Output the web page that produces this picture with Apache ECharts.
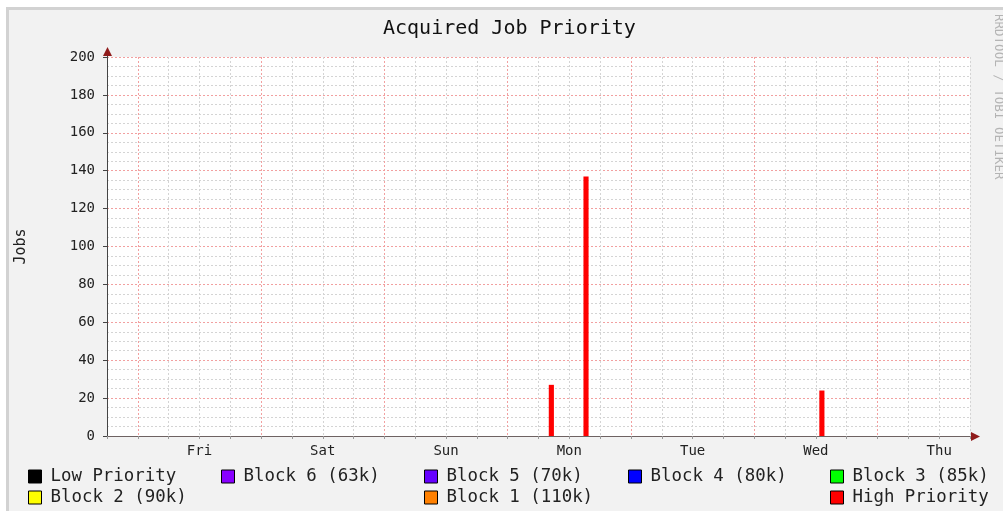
<!DOCTYPE html>
<html>
<head>
<meta charset="utf-8">
<title>Acquired Job Priority</title>
<script src="https://cdn.jsdelivr.net/npm/echarts@6/dist/echarts.min.js"></script>
<style>
  html, body { margin: 0; padding: 0; background: #fff; }
  #frame {
    position: absolute; left: 6px; top: 7px; width: 997px; height: 504px;
    box-sizing: border-box; background: #f2f2f2;
    border-left: 3px solid #d2d2d2; border-top: 3px solid #d2d2d2;
  }
  #main { position: absolute; left: 0; top: 0; width: 1003px; height: 513px; }
</style>
</head>
<body>
<div id="frame"></div>
<div id="main"></div>
<script>
// one week, hourly steps (times in UTC)
const rangeStart = '2024-01-04 18:00';
const rangeEnd = '2024-01-11 18:00';
const dayNames = ['Sun', 'Mon', 'Tue', 'Wed', 'Thu', 'Fri', 'Sat'];

const seriesNames = ['Low Priority', 'Block 6 (63k)', 'Block 5 (70k)', 'Block 4 (80k)',
  'Block 3 (85k)', 'Block 2 (90k)', 'Block 1 (110k)', 'High Priority'];
const seriesColors = ['#000000', '#8800ff', '#6600ff', '#0000ff',
  '#00ff00', '#ffff00', '#ff8000', '#ff0000'];

// only High Priority had jobs in this week; the other classes stay at 0
const highTimes = ['2024-01-08 08:00', '2024-01-08 14:45', '2024-01-10 12:40'];
const highValues = [27, 137, 24];

const HOUR = 3600 * 1000;
const FONT = 'DejaVu Sans Mono';
const GRID_MINOR = '#d4d4d4';
const GRID_MAJOR = '#f2a0a0';

function toMs(s) {
  return new Date(s.replace(' ', 'T') + ':00Z').getTime();
}

const xMin = toMs(rangeStart);
const xMax = toMs(rangeEnd);

var chart = echarts.init(document.getElementById('main'), null, { renderer: 'canvas' });

// each sample covers one hour, like an rrd AREA step
function renderStep(params, api) {
  const t = api.value(0);
  const p0 = api.coord([t, api.value(1)]);
  const p1 = api.coord([t + HOUR, 0]);
  return {
    type: 'rect',
    shape: { x: p0[0], y: p0[1], width: p1[0] - p0[0], height: p1[1] - p0[1] },
    style: { fill: api.visual('color') }
  };
}

const series = seriesNames.map(function (name, i) {
  let data = [];
  if (name === 'High Priority') {
    data = highTimes.map(function (t, j) { return [toMs(t), highValues[j]]; });
  }
  return {
    name: name,
    type: 'custom',
    color: seriesColors[i],
    renderItem: renderStep,
    encode: { x: 0, y: 1 },
    data: data
  };
});

// legend slots (rrdtool keeps gaps in the second row)
const legendSlots = [[28, 468], [221, 468], [424, 468], [628, 468], [830, 468],
  [28, 489], [424, 489], [830, 489]];

const legends = seriesNames.map(function (name, i) {
  return {
    data: [name],
    left: legendSlots[i][0],
    top: legendSlots[i][1],
    padding: 0,
    selectedMode: false,
    icon: 'rect',
    itemWidth: 13,
    itemHeight: 13,
    itemStyle: { borderColor: '#000', borderWidth: 1 },
    textStyle: { fontFamily: FONT, fontSize: 17.4, color: '#222', padding: [0, 0, 0, 4] }
  };
});

var option = {
  animation: false,
  title: {
    text: 'Acquired Job Priority',
    left: 383,
    top: 19,
    padding: 0,
    textStyle: { fontFamily: FONT, fontSize: 20, fontWeight: 'normal', color: '#111' }
  },
  legend: legends,
  grid: {
    left: 107,
    right: 33,
    top: 57,
    bottom: 77,
    show: true,
    backgroundColor: '#ffffff',
    borderWidth: 0
  },
  xAxis: {
    type: 'value',
    min: xMin,
    max: xMax,
    interval: 6 * HOUR,
    axisLine: { lineStyle: { color: '#6e6262', width: 1 } },
    axisTick: { show: true, length: 3, lineStyle: { color: '#999' } },
    axisLabel: {
      margin: 8,
      fontFamily: FONT,
      fontSize: 14,
      color: '#222',
      formatter: function (v) {
        const d = new Date(v);
        return d.getUTCHours() === 12 ? dayNames[d.getUTCDay()] : '';
      }
    },
    splitLine: {
      show: true,
      lineStyle: {
        // midnight lines are red, the 6h lines grey
        color: [GRID_MINOR, GRID_MAJOR, GRID_MINOR, GRID_MINOR],
        type: [2, 2],
        width: 1
      }
    }
  },
  yAxis: {
    type: 'value',
    min: 0,
    max: 200,
    interval: 20,
    name: 'Jobs',
    nameLocation: 'middle',
    nameGap: 78,
    nameRotate: 90,
    nameTextStyle: { fontFamily: FONT, fontSize: 15, color: '#222' },
    axisLine: { show: true, lineStyle: { color: '#444', width: 1 } },
    axisTick: { show: true, length: 4, lineStyle: { color: '#444' } },
    axisLabel: { margin: 12, fontFamily: FONT, fontSize: 14, color: '#222' },
    splitLine: {
      show: true,
      z: 3,
      lineStyle: { color: GRID_MAJOR, type: [2, 2], width: 1 }
    },
    minorTick: { show: false, splitNumber: 4 },
    minorSplitLine: {
      show: true,
      lineStyle: { color: GRID_MINOR, type: [2, 2], width: 1 }
    }
  },
  graphic: [
    {
      id: 'stamp',
      type: 'text',
      x: 998,
      y: 14,
      rotation: -Math.PI / 2,
      style: {
        text: 'RRDTOOL / TOBI OETIKER',
        font: '12.5px ' + FONT,
        fill: '#b4b4b4',
        align: 'left',
        verticalAlign: 'middle'
      }
    }
  ],
  series: series
};

chart.setOption(option);

// rrdtool style arrow heads on the two axes
const origin = chart.convertToPixel({ xAxisIndex: 0, yAxisIndex: 0 }, [xMin, 0]);
const yTop = chart.convertToPixel({ xAxisIndex: 0, yAxisIndex: 0 }, [xMin, 200]);
const xEnd = chart.convertToPixel({ xAxisIndex: 0, yAxisIndex: 0 }, [xMax, 0]);
chart.setOption({
  graphic: [
    {
      id: 'xline',
      type: 'line',
      shape: { x1: xEnd[0], y1: origin[1] + 0.5, x2: xEnd[0] + 3, y2: origin[1] + 0.5 },
      style: { stroke: '#6e6262', lineWidth: 1 }
    },
    {
      id: 'yline',
      type: 'line',
      shape: { x1: origin[0] + 0.5, y1: yTop[1], x2: origin[0] + 0.5, y2: yTop[1] - 3 },
      style: { stroke: '#444', lineWidth: 1 }
    },
    {
      id: 'xarrow',
      type: 'polygon',
      shape: { points: [[xEnd[0] + 1, origin[1] - 4], [xEnd[0] + 10, origin[1] + 0.5], [xEnd[0] + 1, origin[1] + 5]] },
      style: { fill: '#901c1c' }
    },
    {
      id: 'yarrow',
      type: 'polygon',
      shape: { points: [[origin[0] - 4, yTop[1] - 1], [origin[0] + 0.5, yTop[1] - 10], [origin[0] + 5, yTop[1] - 1]] },
      style: { fill: '#901c1c' }
    }
  ]
});
</script>
</body>
</html>
